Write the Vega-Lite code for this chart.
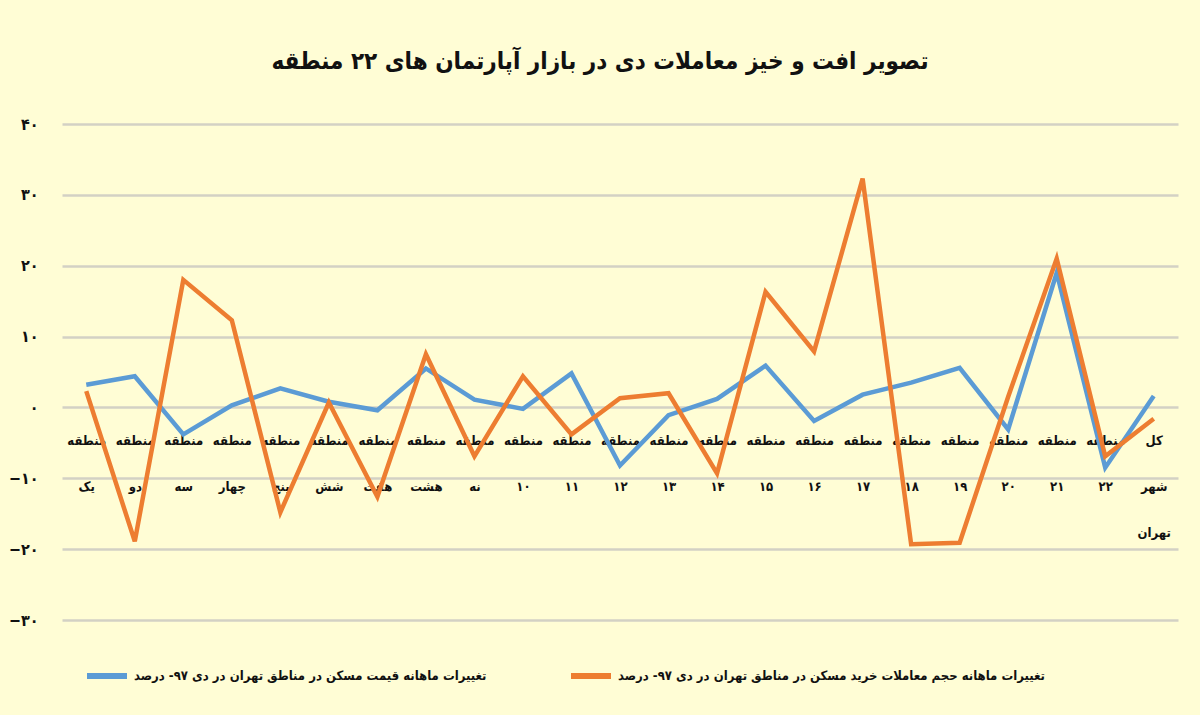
{
  "$schema": "https://vega.github.io/schema/vega-lite/v6.json",
  "autosize": "none",
  "width": 1116,
  "height": 496,
  "padding": {"left": 62, "top": 124, "right": 22, "bottom": 95},
  "background": "#FFFDD5",
  "title": {
    "text": "تصویر افت و خیز معاملات دی در بازار آپارتمان های ۲۲ منطقه",
    "fontSize": 24,
    "font": "'DejaVu Sans Condensed', 'DejaVu Sans'",
    "fontWeight": "bold",
    "color": "#111111",
    "anchor": "middle",
    "dx": -20,
    "offset": 42
  },
  "config": {
    "view": {"stroke": null},
    "font": "'DejaVu Sans Condensed', 'DejaVu Sans'"
  },
  "data": {
    "values": [
      {"region": "منطقه یک", "series": "تغییرات ماهانه قیمت مسکن در مناطق تهران در دی ۹۷- درصد", "value": 3.2},
      {"region": "منطقه دو", "series": "تغییرات ماهانه قیمت مسکن در مناطق تهران در دی ۹۷- درصد", "value": 4.4},
      {"region": "منطقه سه", "series": "تغییرات ماهانه قیمت مسکن در مناطق تهران در دی ۹۷- درصد", "value": -3.8},
      {"region": "منطقه چهار", "series": "تغییرات ماهانه قیمت مسکن در مناطق تهران در دی ۹۷- درصد", "value": 0.3},
      {"region": "منطقه پنج", "series": "تغییرات ماهانه قیمت مسکن در مناطق تهران در دی ۹۷- درصد", "value": 2.7},
      {"region": "منطقه شش", "series": "تغییرات ماهانه قیمت مسکن در مناطق تهران در دی ۹۷- درصد", "value": 0.8},
      {"region": "منطقه هفت", "series": "تغییرات ماهانه قیمت مسکن در مناطق تهران در دی ۹۷- درصد", "value": -0.4},
      {"region": "منطقه هشت", "series": "تغییرات ماهانه قیمت مسکن در مناطق تهران در دی ۹۷- درصد", "value": 5.5},
      {"region": "منطقه نه", "series": "تغییرات ماهانه قیمت مسکن در مناطق تهران در دی ۹۷- درصد", "value": 1.1},
      {"region": "منطقه ۱۰", "series": "تغییرات ماهانه قیمت مسکن در مناطق تهران در دی ۹۷- درصد", "value": -0.2},
      {"region": "منطقه ۱۱", "series": "تغییرات ماهانه قیمت مسکن در مناطق تهران در دی ۹۷- درصد", "value": 4.8},
      {"region": "منطقه ۱۲", "series": "تغییرات ماهانه قیمت مسکن در مناطق تهران در دی ۹۷- درصد", "value": -8.2},
      {"region": "منطقه ۱۳", "series": "تغییرات ماهانه قیمت مسکن در مناطق تهران در دی ۹۷- درصد", "value": -1.1},
      {"region": "منطقه ۱۴", "series": "تغییرات ماهانه قیمت مسکن در مناطق تهران در دی ۹۷- درصد", "value": 1.2},
      {"region": "منطقه ۱۵", "series": "تغییرات ماهانه قیمت مسکن در مناطق تهران در دی ۹۷- درصد", "value": 5.9},
      {"region": "منطقه ۱۶", "series": "تغییرات ماهانه قیمت مسکن در مناطق تهران در دی ۹۷- درصد", "value": -1.9},
      {"region": "منطقه ۱۷", "series": "تغییرات ماهانه قیمت مسکن در مناطق تهران در دی ۹۷- درصد", "value": 1.8},
      {"region": "منطقه ۱۸", "series": "تغییرات ماهانه قیمت مسکن در مناطق تهران در دی ۹۷- درصد", "value": 3.5},
      {"region": "منطقه ۱۹", "series": "تغییرات ماهانه قیمت مسکن در مناطق تهران در دی ۹۷- درصد", "value": 5.6},
      {"region": "منطقه ۲۰", "series": "تغییرات ماهانه قیمت مسکن در مناطق تهران در دی ۹۷- درصد", "value": -3.1},
      {"region": "منطقه ۲۱", "series": "تغییرات ماهانه قیمت مسکن در مناطق تهران در دی ۹۷- درصد", "value": 19.0},
      {"region": "منطقه ۲۲", "series": "تغییرات ماهانه قیمت مسکن در مناطق تهران در دی ۹۷- درصد", "value": -8.5},
      {"region": "کل شهر تهران", "series": "تغییرات ماهانه قیمت مسکن در مناطق تهران در دی ۹۷- درصد", "value": 1.6},
      {"region": "منطقه یک", "series": "تغییرات ماهانه حجم معاملات خرید مسکن در مناطق تهران در دی ۹۷- درصد", "value": 2.3},
      {"region": "منطقه دو", "series": "تغییرات ماهانه حجم معاملات خرید مسکن در مناطق تهران در دی ۹۷- درصد", "value": -18.9},
      {"region": "منطقه سه", "series": "تغییرات ماهانه حجم معاملات خرید مسکن در مناطق تهران در دی ۹۷- درصد", "value": 18.0},
      {"region": "منطقه چهار", "series": "تغییرات ماهانه حجم معاملات خرید مسکن در مناطق تهران در دی ۹۷- درصد", "value": 12.3},
      {"region": "منطقه پنج", "series": "تغییرات ماهانه حجم معاملات خرید مسکن در مناطق تهران در دی ۹۷- درصد", "value": -14.8},
      {"region": "منطقه شش", "series": "تغییرات ماهانه حجم معاملات خرید مسکن در مناطق تهران در دی ۹۷- درصد", "value": 0.7},
      {"region": "منطقه هفت", "series": "تغییرات ماهانه حجم معاملات خرید مسکن در مناطق تهران در دی ۹۷- درصد", "value": -12.6},
      {"region": "منطقه هشت", "series": "تغییرات ماهانه حجم معاملات خرید مسکن در مناطق تهران در دی ۹۷- درصد", "value": 7.5},
      {"region": "منطقه نه", "series": "تغییرات ماهانه حجم معاملات خرید مسکن در مناطق تهران در دی ۹۷- درصد", "value": -6.9},
      {"region": "منطقه ۱۰", "series": "تغییرات ماهانه حجم معاملات خرید مسکن در مناطق تهران در دی ۹۷- درصد", "value": 4.4},
      {"region": "منطقه ۱۱", "series": "تغییرات ماهانه حجم معاملات خرید مسکن در مناطق تهران در دی ۹۷- درصد", "value": -3.8},
      {"region": "منطقه ۱۲", "series": "تغییرات ماهانه حجم معاملات خرید مسکن در مناطق تهران در دی ۹۷- درصد", "value": 1.3},
      {"region": "منطقه ۱۳", "series": "تغییرات ماهانه حجم معاملات خرید مسکن در مناطق تهران در دی ۹۷- درصد", "value": 2.0},
      {"region": "منطقه ۱۴", "series": "تغییرات ماهانه حجم معاملات خرید مسکن در مناطق تهران در دی ۹۷- درصد", "value": -9.3},
      {"region": "منطقه ۱۵", "series": "تغییرات ماهانه حجم معاملات خرید مسکن در مناطق تهران در دی ۹۷- درصد", "value": 16.3},
      {"region": "منطقه ۱۶", "series": "تغییرات ماهانه حجم معاملات خرید مسکن در مناطق تهران در دی ۹۷- درصد", "value": 7.9},
      {"region": "منطقه ۱۷", "series": "تغییرات ماهانه حجم معاملات خرید مسکن در مناطق تهران در دی ۹۷- درصد", "value": 32.3},
      {"region": "منطقه ۱۸", "series": "تغییرات ماهانه حجم معاملات خرید مسکن در مناطق تهران در دی ۹۷- درصد", "value": -19.3},
      {"region": "منطقه ۱۹", "series": "تغییرات ماهانه حجم معاملات خرید مسکن در مناطق تهران در دی ۹۷- درصد", "value": -19.1},
      {"region": "منطقه ۲۰", "series": "تغییرات ماهانه حجم معاملات خرید مسکن در مناطق تهران در دی ۹۷- درصد", "value": 1.5},
      {"region": "منطقه ۲۱", "series": "تغییرات ماهانه حجم معاملات خرید مسکن در مناطق تهران در دی ۹۷- درصد", "value": 21.0},
      {"region": "منطقه ۲۲", "series": "تغییرات ماهانه حجم معاملات خرید مسکن در مناطق تهران در دی ۹۷- درصد", "value": -6.9},
      {"region": "کل شهر تهران", "series": "تغییرات ماهانه حجم معاملات خرید مسکن در مناطق تهران در دی ۹۷- درصد", "value": -1.6}
    ]
  },
  "mark": {"type": "line", "strokeWidth": 4.5, "strokeJoin": "miter", "strokeCap": "butt"},
  "encoding": {
    "x": {
      "field": "region",
      "type": "nominal",
      "sort": null,
      "scale": {"paddingInner": 0, "paddingOuter": 0.5},
      "axis": {
        "title": null,
        "orient": "bottom",
        "offset": -186,
        "domain": false,
        "ticks": false,
        "grid": false,
        "labelAngle": 0,
        "labelAlign": "center",
        "labelBaseline": "top",
        "labelPadding": 0,
        "labelFontSize": 13,
        "labelFontWeight": "bold",
        "labelColor": "#111111",
        "labelLineHeight": 46,
        "labelOverlap": false,
        "labelExpr": "split(datum.label, ' ')"
      }
    },
    "y": {
      "field": "value",
      "type": "quantitative",
      "scale": {"domain": [-30, 40], "nice": false, "zero": false},
      "axis": {
        "title": null,
        "values": [-30, -20, -10, 0, 10, 20, 30, 40],
        "domain": false,
        "ticks": false,
        "gridColor": "#D3D1C4",
        "gridWidth": 2.5,
        "labelFontSize": 16,
        "labelFontWeight": "bold",
        "labelColor": "#111111",
        "labelPadding": 24,
        "labelExpr": "replace(replace(replace(replace(replace(datum.label,'0','۰'),'1','۱'),'2','۲'),'3','۳'),'4','۴')"
      }
    },
    "color": {
      "field": "series",
      "type": "nominal",
      "scale": {
        "domain": [
          "تغییرات ماهانه قیمت مسکن در مناطق تهران در دی ۹۷- درصد",
          "تغییرات ماهانه حجم معاملات خرید مسکن در مناطق تهران در دی ۹۷- درصد"
        ],
        "range": ["#5B9BD5", "#ED7D31"]
      },
      "legend": {
        "title": null,
        "orient": "none",
        "direction": "horizontal",
        "legendX": 22,
        "legendY": 529,
        "symbolType": "stroke",
        "symbolStrokeWidth": 6,
        "symbolSize": 1600,
        "labelFontSize": 13,
        "labelFontWeight": "bold",
        "labelColor": "#111111",
        "labelOffset": 4,
        "columnPadding": 72,
        "labelLimit": 700
      }
    }
  }
}
